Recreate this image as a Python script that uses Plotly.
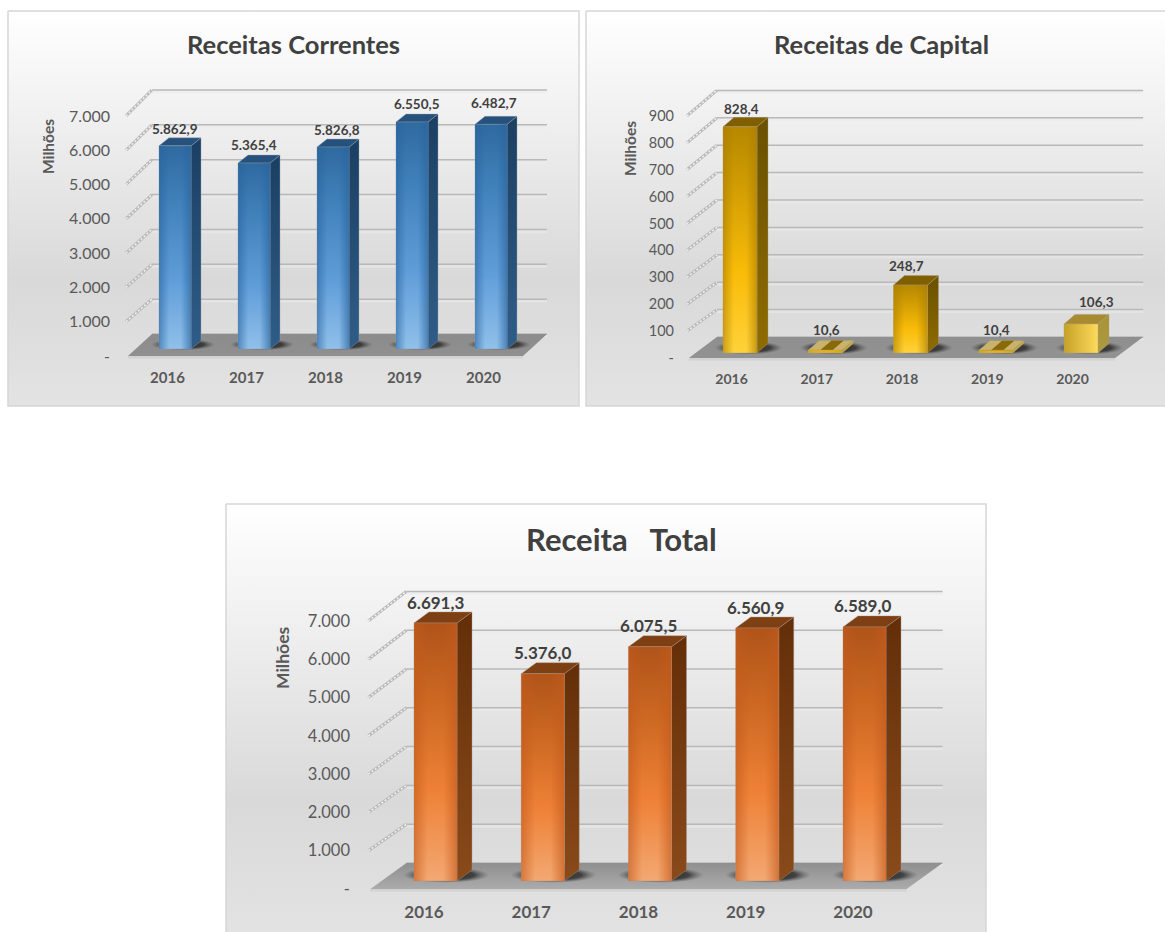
import numpy as np
import plotly.graph_objects as go

# ---- Dados ----
ANOS = [2016, 2017, 2018, 2019, 2020]
RECEITAS_CORRENTES = [5862.9, 5365.4, 5826.8, 6550.5, 6482.7]
RECEITAS_CAPITAL = [828.4, 10.6, 248.7, 10.4, 106.3]
RECEITA_TOTAL = [6691.3, 5376.0, 6075.5, 6560.9, 6589.0]
TICKS_MILHAR = [0, 1000, 2000, 3000, 4000, 5000, 6000, 7000]
TICKS_CAPITAL = [0, 100, 200, 300, 400, 500, 600, 700, 800, 900]

W, H = 1165, 932


def fmt_valor(v):
    return f"{v:,.1f}".replace(",", "#").replace(".", ",").replace("#", ".")


def fmt_tick(v):
    return "-" if v == 0 else f"{v:,.0f}".replace(",", ".")


# Cores das faces de cada série
AZUL = dict(front=[[0, "#90c0ea"], [0.35, "#5e9cd8"], [0.75, "#3f7fb8"], [1, "#2f6a9f"]],
            side=[[0, "#2f5d88"], [1, "#1b3f62"]], top="#25517c",
            shade=(40, 100, 160), glow="rgba(150,160,170,0.5)")
LARANJA = dict(front=[[0, "#f3a873"], [0.35, "#ee8136"], [0.7, "#cc6822"], [1, "#b0541a"]],
               side=[[0, "#8a4a1a"], [1, "#632e08"]], top="#7e3f12",
               shade=(195, 90, 28), glow="rgba(170,150,140,0.5)")
OURO = dict(front=[[0, "#ffd23a"], [0.35, "#f9bc08"], [1, "#b68800"]],
            side=[[0, "#8f6c00"], [1, "#6a5000"]], top="#7f5f00",
            shade=(170, 125, 0), glow="rgba(170,160,130,0.5)")
OURO_CLARO = dict(front=[[0, "#e8bf3a"], [1, "#d8ae2c"]],
                  side=[[0, "#ae9a40"], [1, "#a89238"]], top="#a88a30",
                  shade=(200, 160, 30), glow="rgba(170,160,130,0.5)",
                  hfront=[[0, "#c6a127"], [1, "#fddb5c"]])
OURO_BAIXO = dict(front=[[0, "#e3b120"], [1, "#e3b120"]],
                  side=[[0, "#c8a840"], [1, "#c8a840"]], top="#c9b26a",
                  shade=(200, 160, 30), glow="rgba(170,160,130,0.4)",
                  stripe="#8a6a08")

PAINEIS = [
    dict(card=(8, 11, 579, 406), plot=(111, 560, 70, 367),
         x0=167.5, passo=79.0, zero=356.0, escala=0.0343,
         prof=(24, 22), ganho_parede=34.86 / 34.3, ganho_barra=34.65 / 34.3,
         base=(7.5, 7), largura=32, lado=(10, 8),
         valores=RECEITAS_CORRENTES, ticks=TICKS_MILHAR,
         estilo=lambda v: AZUL, piso=("#8f8f8f", "#8c8c8c"),
         titulo="Receitas Correntes", titulo_xy=(293, 44), titulo_px=25.5,
         milhoes=(48, 147, 15.5), fs=(16, 15, 13.5),
         ajuste=[(0, 1), (0, 0), (4, 1), (5, 0), (3, -3)]),
    dict(card=(586, 11, 1170, 406), plot=(675, 1155, 70, 369),
         x0=731.5, passo=85.25, zero=358.0, escala=0.269,
         prof=(28, 21), ganho_parede=27.4 / 26.9, ganho_barra=27.3 / 26.9,
         base=(8.5, 5), largura=34, lado=(11, 9.5),
         valores=RECEITAS_CAPITAL, ticks=TICKS_CAPITAL,
         estilo=lambda v: OURO_BAIXO if v < 50 else OURO_CLARO if v < 200 else OURO,
         piso=("#929292", "#8f8f8f"),
         titulo="Receitas de Capital", titulo_xy=(881, 44), titulo_px=25.5,
         milhoes=(630, 149, 15.5), fs=(14.5, 14, 13.5),
         ajuste=[(1, 2), (1, -1), (-4, 0), (1, -1), (15, -2)]),
    dict(card=(226, 504, 986, 940), plot=(351, 960, 570, 900),
         x0=424.0, passo=107.25, zero=889.0, escala=0.0383,
         prof=(36, 26), ganho_parede=38.8 / 38.3, ganho_barra=38.56 / 38.3,
         base=(11.5, 8), largura=43, lado=(15, 11),
         valores=RECEITA_TOTAL, ticks=TICKS_MILHAR,
         estilo=lambda v: LARANJA, piso=("#ababab", "#8f8f8f"),
         titulo="Receita\u00a0\u00a0\u00a0Total", titulo_xy=(621, 539), titulo_px=31,
         milhoes=(282, 658, 17.5), fs=(16.5, 17, 17),
         ajuste=[(0, 1), (0, 0), (-2, 0), (-2, 0), (-2, 0)]),
]

FONTE = "Lato, Carlito, Calibri, sans-serif"
fig = go.Figure()
anotacoes = []


def rgba(rgb, a):
    return f"rgba({rgb[0]},{rgb[1]},{rgb[2]},{a})"


def poligono(xs, ys, eixo, cor=None, grad=None, linha=None):
    """Face preenchida no sistema de eixos do painel."""
    kw = dict(x=xs, y=ys, mode="lines", fill="toself", hoverinfo="skip",
              showlegend=False, xaxis=eixo[0], yaxis=eixo[1],
              line=dict(width=0 if linha is None else linha[1],
                        color="rgba(0,0,0,0)" if linha is None else linha[0]))
    if grad is not None:
        kw["fillgradient"] = grad
    else:
        kw["fillcolor"] = cor
    fig.add_trace(go.Scatter(**kw))


def linhas(segmentos, eixo, cor, larg, dash=None):
    xs, ys = [], []
    for (xa, ya), (xb, yb) in segmentos:
        xs += [xa, xb, None]
        ys += [ya, yb, None]
    fig.add_trace(go.Scatter(x=xs, y=ys, mode="lines", hoverinfo="skip", showlegend=False,
                             xaxis=eixo[0], yaxis=eixo[1],
                             line=dict(color=cor, width=larg, dash=dash)))


# Fundo dos cartões, num par de eixos que cobre a página inteira
for p in PAINEIS:
    xa, ya, xb, yb = p["card"]
    fig.add_trace(go.Scatter(
        x=[xa, xb, xb, xa, xa], y=[ya, ya, yb, yb, ya], mode="lines", fill="toself",
        hoverinfo="skip", showlegend=False, xaxis="x", yaxis="y",
        line=dict(color="#d6d6d6", width=1.5),
        fillgradient=dict(type="vertical", start=ya, stop=yb,
                          colorscale=[[0, "#ffffff"], [0.68, "#d9d9d9"], [1, "#e3e3e3"]])))

layout_eixos = dict(
    xaxis=dict(domain=[0, 1], range=[0, W], visible=False, fixedrange=True),
    yaxis=dict(domain=[0, 1], range=[H, 0], visible=False, fixedrange=True),
)

for n, p in enumerate(PAINEIS):
    k = n + 2
    eixo = (f"x{k}", f"y{k}")
    sx, sy = p["passo"], p["escala"]
    dpx = lambda px: px / sx
    dpy = lambda px: px / sy
    fx, fy = p["prof"]
    gp, gb = p["ganho_parede"], p["ganho_barra"]
    esq, dir_ = -0.5, len(ANOS) - 0.5
    wx, wy = dpx(fx), dpy(fy)

    # Linhas de grade na parede do fundo e grelha oblíqua na parede lateral
    faixa = [((esq + wx, t * gp + wy - dpy(2)), (dir_ + wx, t * gp + wy - dpy(2))) for t in p["ticks"]]
    grade = [((esq + wx, t * gp + wy), (dir_ + wx, t * gp + wy)) for t in p["ticks"]]
    linhas(faixa, eixo, "rgba(235,235,235,0.55)", 3)
    linhas(grade, eixo, "#b8b8b8", 1.5)
    obliquas = [((esq - dpx(2), t), (esq + wx, t * gp + wy)) for t in p["ticks"][1:]]
    linhas(obliquas, eixo, "#b9b9b9", 3)
    linhas(obliquas, eixo, "#f2f2f2", 1.5, dash="2px,2px")

    # Piso
    rebordo = dpy(2.5)
    poligono([esq, dir_, dir_ + 0, esq, esq],
             [0, 0, -rebordo, -rebordo, 0], eixo, cor="#d2d2d2")
    poligono([esq, dir_, dir_ + wx, esq + wx, esq], [0, 0, wy, wy, 0], eixo,
             grad=dict(type="vertical", start=0, stop=wy,
                       colorscale=[[0, p["piso"][0]], [1, p["piso"][1]]]))

    bx, by = p["base"]
    larg = dpx(p["largura"])
    lx, ly = dpx(p["lado"][0]), dpy(p["lado"][1])
    base_y = dpy(by)

    # Sombras projetadas no piso
    ang = np.linspace(0, 2 * np.pi, 41)
    for i, v in enumerate(p["valores"]):
        cx = i + dpx(bx) + dpx(p["largura"] * 0.25)
        cy = base_y + dpy(p["lado"][1] * 0.55)
        rx, ry = dpx(p["largura"] * 1.0), dpy(p["lado"][1] * 0.72)
        poligono(list(cx + rx * np.cos(ang)), list(cy + ry * np.sin(ang)), eixo,
                 grad=dict(type="radial",
                           colorscale=[[0, "rgba(25,25,25,0.9)"], [0.65, "rgba(35,35,35,0.75)"],
                                       [1, "rgba(80,80,80,0)"]]))

    # Barras: frente, lateral e tampo
    for i, v in enumerate(p["valores"]):
        est = p["estilo"](v)
        h = v * gb
        xe = i + dpx(bx) - larg / 2
        xd = xe + larg
        y0, y1 = base_y, base_y + h
        # lateral
        poligono([xd, xd + lx, xd + lx, xd, xd], [y0, y0 + ly, y1 + ly, y1, y0], eixo,
                 grad=dict(type="vertical", start=y0, stop=y1 + ly, colorscale=est["side"]),
                 linha=(est["glow"], 0.8))
        # tampo
        poligono([xe, xd, xd + lx, xe + lx, xe], [y1, y1, y1 + ly, y1 + ly, y1], eixo,
                 cor=est["top"], linha=(est["glow"], 0.8))
        if "stripe" in est:
            a, b = xe + 0.36 * larg, xe + 0.72 * larg
            poligono([a, b, b + lx, a + lx, a], [y1, y1, y1 + ly, y1 + ly, y1], eixo,
                     cor=est["stripe"])
        # frente
        caixa = ([xe, xd, xd, xe, xe], [y0, y0, y1, y1, y0])
        if "hfront" in est:
            poligono(*caixa, eixo,
                     grad=dict(type="horizontal", start=xe, stop=xd, colorscale=est["hfront"]),
                     linha=(est["glow"], 0.8))
        else:
            poligono(*caixa, eixo,
                     grad=dict(type="vertical", start=y0, stop=y1, colorscale=est["front"]),
                     linha=(est["glow"], 0.8))
            # sombreamento cilíndrico nas bordas da frente
            poligono(*caixa, eixo,
                     grad=dict(type="horizontal", start=xe, stop=xd,
                               colorscale=[[0, rgba(est["shade"], 0.6)], [0.32, rgba(est["shade"], 0.0)],
                                           [0.68, rgba(est["shade"], 0.0)], [1, rgba(est["shade"], 0.65)]]))

        # Rótulo de valor acima do tampo
        ax_, ay_ = p["ajuste"][i]
        anotacoes.append(dict(
            x=i + dpx(bx), y=y1 + ly, xref=eixo[0], yref=eixo[1], text=f"<b>{fmt_valor(v)}</b>",
            showarrow=False, xanchor="center", yanchor="middle", xshift=ax_, yshift=10 - ay_,
            font=dict(family=FONTE, size=p["fs"][2], color="#404040")))

    # Eixos do painel, posicionados em pixels da página
    pe, pd, pt, pb = p["plot"]
    sfx = str(k)
    layout_eixos["xaxis" + sfx] = dict(
        domain=[pe / W, pd / W], anchor="y" + sfx,
        range=[(pe - p["x0"]) / sx, (pd - p["x0"]) / sx],
        tickmode="array", tickvals=list(range(len(ANOS))), ticktext=[f"<b>{a}</b>" for a in ANOS],
        showgrid=False, zeroline=False, showline=False, ticks="", fixedrange=True,
        tickfont=dict(family=FONTE, size=p["fs"][1], color="#595959"))
    layout_eixos["yaxis" + sfx] = dict(
        domain=[1 - pb / H, 1 - pt / H], anchor="x" + sfx,
        range=[(p["zero"] - pb) / sy, (p["zero"] - pt) / sy],
        tickmode="array", tickvals=p["ticks"], ticktext=[fmt_tick(t) for t in p["ticks"]],
        showgrid=False, zeroline=False, showline=False, ticks="", fixedrange=True,
        tickfont=dict(family=FONTE, size=p["fs"][0], color="#595959"))

    # Títulos
    tx, ty = p["titulo_xy"]
    anotacoes.append(dict(x=tx / W, y=1 - ty / H, xref="paper", yref="paper", showarrow=False,
                          text=f"<b>{p['titulo']}</b>", xanchor="center", yanchor="middle",
                          font=dict(family=FONTE, size=p["titulo_px"], color="#404040")))
    mx, my, ms = p["milhoes"]
    anotacoes.append(dict(x=mx / W, y=1 - my / H, xref="paper", yref="paper", showarrow=False,
                          text="<b>Milhões</b>", textangle=-90, xanchor="center", yanchor="middle",
                          font=dict(family=FONTE, size=ms, color="#595959")))

fig.update_layout(width=W, height=H, autosize=False, margin=dict(l=0, r=0, t=0, b=0),
                  paper_bgcolor="#ffffff", plot_bgcolor="rgba(0,0,0,0)", showlegend=False,
                  annotations=anotacoes, **layout_eixos)

fig.write_html("out.html", config=dict(displayModeBar=False))
